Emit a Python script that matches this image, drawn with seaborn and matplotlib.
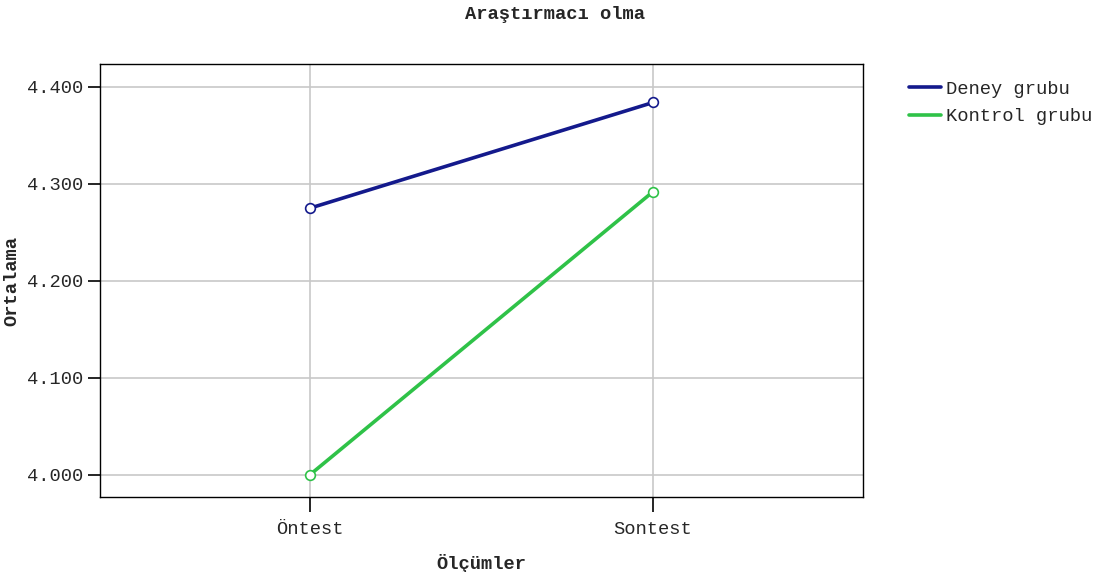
# %% data
import pandas as pd
import seaborn as sns
import matplotlib.pyplot as plt
from matplotlib.lines import Line2D
from matplotlib.ticker import FormatStrFormatter

olcumler = ["Öntest", "Sontest"]
deney = [4.275, 4.384]
kontrol = [4.000, 4.292]
gruplar = ["Deney grubu", "Kontrol grubu"]
renkler = ["#141a8c", "#2fc248"]

df = pd.DataFrame({
    "Ölçümler": olcumler * 2,
    "Ortalama": deney + kontrol,
    "Grup": [gruplar[0]] * 2 + [gruplar[1]] * 2,
})

# %% plot
sns.set_style("white")
plt.rcParams["font.family"] = ["Liberation Mono", "DejaVu Sans Mono"]

fig = plt.figure(figsize=(11.1, 5.72), dpi=100)
ax = fig.add_axes([0.0901, 0.1311, 0.6874, 0.757])

sns.lineplot(
    data=df, x="Ölçümler", y="Ortalama", hue="Grup",
    palette=renkler, linewidth=2.6,
    marker="o", markersize=7,
    legend=False, ax=ax, zorder=3,
)
# hollow circle markers in the line colour
for line in ax.lines:
    line.set_markerfacecolor("white")
    line.set_markeredgecolor(line.get_color())
    line.set_markeredgewidth(1.2)

ax.set_xlim(-0.612, 1.612)
ax.set_ylim(3.977, 4.4237)
ax.set_yticks([4.0, 4.1, 4.2, 4.3, 4.4])
ax.yaxis.set_major_formatter(FormatStrFormatter("%.3f"))
ax.grid(True, color="#c8c8c8", linewidth=1.2)
ax.set_axisbelow(True)

for s in ax.spines.values():
    s.set_color("black")
    s.set_linewidth(1.0)
ax.tick_params(axis="both", direction="out", length=9, width=1.2,
               color="black", labelsize=13.5, pad=3, left=True, bottom=True)
ax.tick_params(axis="x", length=11, pad=6)

ax.set_xlabel("Ölçümler", fontsize=13.5, fontweight="bold", labelpad=12)
ax.set_ylabel("Ortalama", fontsize=13.5, fontweight="bold", labelpad=5)
fig.suptitle("Araştırmacı olma", fontsize=13.5, fontweight="bold", y=0.99)

handles = [Line2D([], [], color=c, linewidth=2.6) for c in renkler]
fig.legend(handles, gruplar, loc="upper left", bbox_to_anchor=(0.812, 0.872),
           frameon=False, fontsize=13.5, handlelength=1.7, handletextpad=0.3,
           labelspacing=0.55, borderaxespad=0)

fig.savefig("out.png", dpi=100)
